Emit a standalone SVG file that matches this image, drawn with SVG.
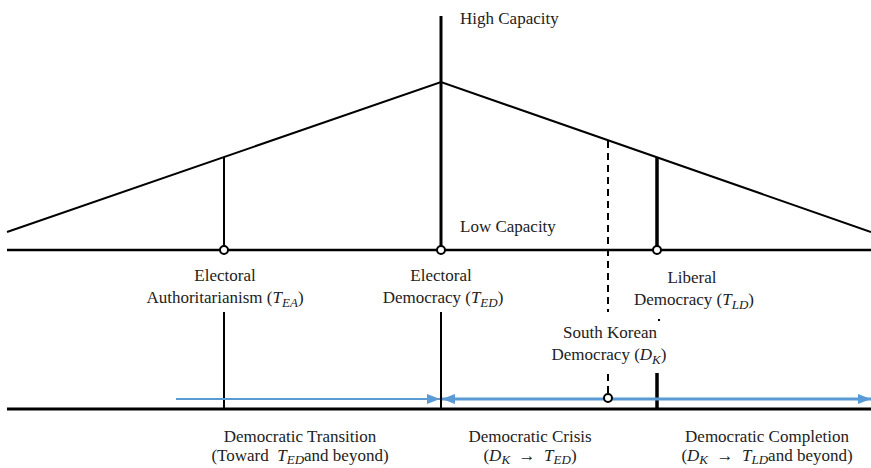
<svg xmlns="http://www.w3.org/2000/svg" width="871" height="468" viewBox="0 0 871 468">
<defs>
<style>
.t{font-family:"Liberation Serif","Times New Roman",serif;font-size:17px;fill:#222;text-anchor:middle}
.l{text-anchor:start}
.m{font-style:italic}
.s{font-style:italic;font-size:13px}
.k{fill:none;stroke:#000;stroke-linecap:butt}
.c{fill:#fff;stroke:#000;stroke-width:2}
.b{fill:none;stroke:#5B9BD5}
</style>
<marker id="ah" markerUnits="userSpaceOnUse" markerWidth="14" markerHeight="12" refX="13" refY="6" orient="auto-start-reverse">
<path d="M0,1 L13,6 L0,11 Z" fill="#5B9BD5"/>
</marker>
</defs>
<rect width="871" height="468" fill="#fff"/>
<g id="connectors">
<path class="k" stroke-width="2" d="M7,232 L441,82 L871,232"/>
<line class="k" stroke-width="2.5" x1="7" y1="250" x2="871" y2="250"/>
<line class="k" stroke-width="3" x1="7" y1="409" x2="871" y2="409"/>
<line class="k" stroke-width="3" x1="441" y1="16" x2="441" y2="250"/>
<line class="k" stroke-width="2" x1="224" y1="157" x2="224" y2="250"/>
<line class="k" stroke-width="3.5" x1="657" y1="157" x2="657" y2="250"/>
<line class="k" stroke-width="2" stroke-dasharray="7,5" x1="608" y1="141" x2="608" y2="312"/>
<line class="k" stroke-width="2" stroke-dasharray="7,5" x1="608" y1="374" x2="608" y2="396"/>
<line class="k" stroke-width="2" x1="224" y1="312" x2="224" y2="409"/>
<line class="k" stroke-width="2" x1="441" y1="312" x2="441" y2="409"/>
<line class="k" stroke-width="3.5" x1="657" y1="373" x2="657" y2="409"/>
<rect x="658" y="319" width="2" height="2" fill="#000"/>
<line class="b" stroke-width="2" x1="176" y1="399" x2="440" y2="399" marker-end="url(#ah)"/>
<line class="b" stroke-width="3" x1="442" y1="399" x2="871" y2="399" marker-start="url(#ah)" marker-end="url(#ah)"/>
<circle class="c" cx="224" cy="250" r="4"/>
<circle class="c" cx="441" cy="250" r="4"/>
<circle class="c" cx="657" cy="250" r="4"/>
<circle class="c" cx="608" cy="398" r="4"/>
</g>
<g id="high-capacity"><text class="t l" x="460" y="24">High Capacity</text></g>
<g id="low-capacity"><text class="t l" x="460" y="232">Low Capacity</text></g>
<g id="node-ea">
<text class="t" x="225" y="281">Electoral</text>
<text class="t" x="225" y="303">Authoritarianism (<tspan class="m">T</tspan><tspan class="s" dy="4">EA</tspan><tspan dy="-4">)</tspan></text>
</g>
<g id="node-ed">
<text class="t" x="441" y="281">Electoral</text>
<text class="t" x="443" y="303">Democracy (<tspan class="m">T</tspan><tspan class="s" dy="4">ED</tspan><tspan dy="-4">)</tspan></text>
</g>
<g id="node-ld">
<text class="t" x="692" y="283">Liberal</text>
<text class="t" x="694" y="305">Democracy (<tspan class="m">T</tspan><tspan class="s" dy="4">LD</tspan><tspan dy="-4">)</tspan></text>
</g>
<g id="node-dk">
<text class="t" x="610" y="338">South Korean</text>
<text class="t" x="609" y="360">Democracy (<tspan class="m">D</tspan><tspan class="s" dy="4">K</tspan><tspan dy="-4">)</tspan></text>
</g>
<g id="transition">
<text class="t" x="300" y="442">Democratic Transition</text>
<text class="t" x="300" y="461">(Toward&#160;&#160;<tspan class="m">T</tspan><tspan class="s" dy="3">ED</tspan><tspan dy="-3">and beyond)</tspan></text>
</g>
<g id="crisis">
<text class="t" x="530" y="442">Democratic Crisis</text>
<text class="t" x="530" y="461">(<tspan class="m">D</tspan><tspan class="s" dy="3">K</tspan><tspan dy="-3">&#160;&#160;→&#160;&#160;</tspan><tspan class="m">T</tspan><tspan class="s" dy="3">ED</tspan><tspan dy="-3">)</tspan></text>
</g>
<g id="completion">
<text class="t" x="767" y="442">Democratic Completion</text>
<text class="t" x="767" y="461">(<tspan class="m">D</tspan><tspan class="s" dy="3">K</tspan><tspan dy="-3">&#160;&#160;→&#160;&#160;</tspan><tspan class="m">T</tspan><tspan class="s" dy="3">LD</tspan><tspan dy="-3">and beyond)</tspan></text>
</g>
</svg>
